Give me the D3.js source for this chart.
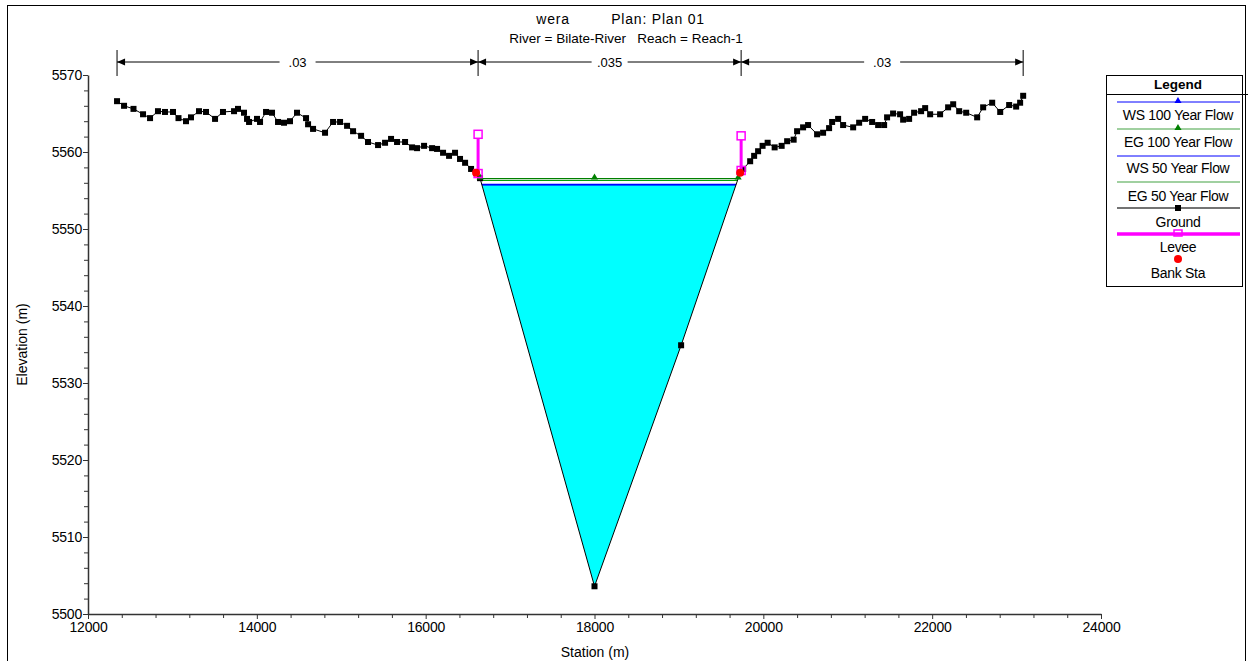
<!DOCTYPE html>
<html>
<head>
<meta charset="utf-8">
<script src="https://d3js.org/d3.v7.min.js"></script>
<style>
  body { margin:0; background:#fff; }
  svg { display:block; font-family:"Liberation Sans", Arial, sans-serif; }
  .tick text { font-size:14px; letter-spacing:-0.2px; fill:#000; }
  .axis path, .axis line { stroke:#333; }
</style>
</head>
<body>
<div id="chart"></div>
<script>
// ground profile: station (m), elevation (m)
var groundSta = [12344,12427,12539,12652,12735,12829,12912,13007,13072,13161,13220,13315,13398,13505,13599,13730,13777,13848,13884,13908,
  14002,14038,14109,14180,14251,14322,14393,14476,14583,14607,14666,14808,14903,14986,15069,15140,15235,15317,15436,15519,
  15590,15661,15756,15839,15898,15981,16076,16135,16206,16277,16348,16407,16467,16538,16597,16644,18000,19026,19725,19761,
  19844,19891,19938,19991,20051,20134,20217,20282,20359,20400,20471,20530,20637,20708,20779,20815,20886,20945,21064,21135,
  21206,21289,21360,21431,21466,21537,21620,21656,21727,21786,21869,21917,21976,22094,22189,22249,22320,22403,22533,22604,
  22711,22806,22912,22995,23042,23078];
var groundElev = [5566.6,5566.0,5565.6,5564.9,5564.4,5565.3,5565.2,5565.2,5564.4,5564.0,5564.5,5565.3,5565.2,5564.3,5565.2,5565.3,5565.6,5565.1,5564.3,5563.9,
  5564.3,5563.9,5565.2,5565.1,5563.9,5563.8,5564.0,5565.1,5564.4,5563.6,5563.0,5562.5,5563.9,5563.9,5563.4,5562.7,5562.1,5561.3,5560.9,5561.2,
  5561.7,5561.3,5561.3,5560.6,5560.5,5560.8,5560.5,5560.4,5559.9,5559.5,5559.9,5559.1,5558.6,5557.8,5557.3,5556.6,5503.6,5534.9,5557.3,5557.8,
  5558.8,5559.5,5560.1,5560.8,5561.2,5560.6,5560.8,5561.4,5561.6,5562.7,5563.2,5563.5,5562.3,5562.5,5563.1,5563.9,5564.3,5563.5,5563.2,5563.8,
  5564.3,5563.9,5563.5,5563.5,5564.5,5565.0,5564.9,5564.2,5564.3,5565.1,5565.3,5565.7,5564.9,5564.9,5565.8,5566.2,5565.3,5565.1,5564.5,5565.8,
  5566.4,5565.2,5566.1,5565.9,5566.4,5567.3];

// levees [station, top elevation, base elevation]
var leveeSta = [16621, 19737];
var leveeTop = [5562.3, 5562.1];
var leveeBase = [5557.2, 5557.6];
// bank stations
var bankSta = [16597, 19725];
var bankElev = [5557.3, 5557.3];

// water surfaces
var wsNames = ["EG 100 Year Flow", "EG 50 Year Flow", "WS 100 Year Flow", "WS 50 Year Flow"];
var wsElev = [5556.55, 5556.3, 5555.8, 5555.7];

// manning's n regions
var nBreaks = [12344, 16621, 19737, 23078];
var nValues = [".03", ".035", ".03"];

var xTicks = [12000,14000,16000,18000,20000,22000,24000];
var yTicks = [5500,5510,5520,5530,5540,5550,5560,5570];

var W = 1248, H = 661;
var L = 88, R = 1101, T = 75, B = 614;

var svg = d3.select("#chart").append("svg").attr("width", W).attr("height", H);

// outer frame
svg.append("rect").attr("x", 7.5).attr("y", 5.5).attr("width", 1238).attr("height", 670)
  .attr("fill", "none").attr("stroke", "#000").attr("stroke-width", 1);

var x = d3.scaleLinear().domain([12000, 24000]).range([L, R]);
var y = d3.scaleLinear().domain([5500, 5570]).range([B, T]);

// axes
var xAxis = svg.append("g").attr("class", "axis").attr("transform", "translate(0," + B + ")")
  .call(d3.axisBottom(x).tickValues(xTicks).tickSize(5).tickSizeOuter(0).tickFormat(d3.format("d")));
xAxis.select(".domain").attr("stroke-width", 1.5);
xAxis.selectAll(".tick text").attr("y", 8).attr("dy", "0.71em");
svg.append("g").attr("class", "axis").attr("transform", "translate(0," + B + ")")
  .call(d3.axisBottom(x).tickValues(d3.range(12000, 24001, 400).filter(function(v){ return v % 2000; })).tickSize(4).tickFormat(""))
  .select(".domain").remove();

var yAxis = svg.append("g").attr("class", "axis").attr("transform", "translate(" + L + ",0)")
  .call(d3.axisLeft(y).tickValues(yTicks).tickSize(5).tickSizeOuter(0).tickFormat(d3.format("d")));
yAxis.select(".domain").attr("stroke-width", 1.5);
yAxis.selectAll(".tick text").attr("x", -6);
svg.append("g").attr("class", "axis").attr("transform", "translate(" + L + ",0)")
  .call(d3.axisLeft(y).tickValues(d3.range(5500, 5571, 2).filter(function(v){ return v % 10; })).tickSize(4).tickFormat(""))
  .select(".domain").remove();

svg.append("text").attr("x", 595).attr("y", 657).attr("text-anchor", "middle")
  .attr("font-size", 14).text("Station (m)");
svg.append("text").attr("transform", "translate(27," + ((T + B) / 2) + ") rotate(-90)")
  .attr("text-anchor", "middle").attr("font-size", 14).text("Elevation (m)");

// titles
svg.append("text").attr("x", 553).attr("y", 24).attr("text-anchor", "middle").attr("font-size", 14).attr("letter-spacing", "0.8px").text("wera");
svg.append("text").attr("x", 658).attr("y", 24).attr("text-anchor", "middle").attr("font-size", 14).attr("letter-spacing", "0.8px").text("Plan: Plan 01");
svg.append("text").attr("x", 626).attr("y", 43).attr("text-anchor", "middle").attr("font-size", 13.5)
  .style("white-space", "pre").text("River = Bilate-River   Reach = Reach-1");

// ground helper: intersections with a horizontal level
var gpts = groundSta.map(function(s, i){ return [s, groundElev[i]]; });
function crossings(level) {
  var iMin = d3.minIndex(groundElev);
  var left = null, right = null;
  for (var i = iMin; i > 0; i--) {
    if (gpts[i - 1][1] >= level) {
      var a = gpts[i - 1], b = gpts[i];
      left = a[0] + (level - a[1]) / (b[1] - a[1]) * (b[0] - a[0]);
      break;
    }
  }
  for (var j = iMin; j < gpts.length - 1; j++) {
    if (gpts[j + 1][1] >= level) {
      var c = gpts[j], d = gpts[j + 1];
      right = c[0] + (level - c[1]) / (d[1] - c[1]) * (d[0] - c[0]);
      break;
    }
  }
  return [left, right, iMin];
}

// water fill under WS 100
var ws100 = wsElev[2];
var cr = crossings(ws100);
var poly = [[cr[0], ws100]];
gpts.forEach(function(p){ if (p[0] > cr[0] && p[0] < cr[1]) poly.push(p); });
poly.push([cr[1], ws100]);
svg.append("path")
  .attr("d", d3.line().x(function(d){ return x(d[0]); }).y(function(d){ return y(d[1]); })(poly) + "Z")
  .attr("fill", "#00ffff").attr("stroke", "none");

// water surface lines
var wsColors = ["#008000", "#00a000", "#0000ff", "#0000ff"];
var wsWidth = [1.2, 1, 1.2, 1];
wsElev.forEach(function(e, i){
  var c = crossings(e);
  svg.append("line").attr("x1", x(c[0])).attr("x2", x(c[1])).attr("y1", y(e)).attr("y2", y(e))
    .attr("stroke", wsColors[i]).attr("stroke-width", wsWidth[i]);
});

// ground line and markers
svg.append("path")
  .attr("d", d3.line().x(function(d){ return x(d[0]); }).y(function(d){ return y(d[1]); })(gpts))
  .attr("fill", "none").attr("stroke", "#000").attr("stroke-width", 1);
svg.selectAll("rect.gp").data(gpts).enter().append("rect").attr("class", "gp")
  .attr("x", function(d){ return x(d[0]) - 3; }).attr("y", function(d){ return y(d[1]) - 3; })
  .attr("width", 6).attr("height", 6).attr("fill", "#000");

// EG 100 triangles
var tri = d3.symbol().type(d3.symbolTriangle).size(22);
var egc = crossings(wsElev[0]);
[egc[0], groundSta[egc[2]], egc[1]].forEach(function(s){
  svg.append("path").attr("d", tri()).attr("fill", "#008000")
    .attr("transform", "translate(" + x(s) + "," + (y(wsElev[0]) - 1) + ")");
});

// levees
leveeSta.forEach(function(s, i){
  svg.append("line").attr("x1", x(s)).attr("x2", x(s)).attr("y1", y(leveeTop[i])).attr("y2", y(leveeBase[i]))
    .attr("stroke", "#ff00ff").attr("stroke-width", 3);
  svg.append("rect").attr("x", x(s) - 4).attr("y", y(leveeTop[i]) - 4).attr("width", 8).attr("height", 8)
    .attr("fill", "#fff").attr("stroke", "#ff00ff").attr("stroke-width", 1.5);
  svg.append("rect").attr("x", x(s) - 4).attr("y", y(leveeBase[i]) - 4).attr("width", 8).attr("height", 8)
    .attr("fill", "none").attr("stroke", "#ff00ff").attr("stroke-width", 1.5);
});

// bank stations
bankSta.forEach(function(s, i){
  svg.append("circle").attr("cx", x(s)).attr("cy", y(bankElev[i])).attr("r", 4).attr("fill", "#ff0000");
});

// manning's n dimension lines
var dimY = 62;
nBreaks.forEach(function(s){
  svg.append("line").attr("x1", x(s)).attr("x2", x(s)).attr("y1", 50).attr("y2", 76)
    .attr("stroke", "#000").attr("stroke-width", 1);
});
nValues.forEach(function(v, i){
  var x1 = x(nBreaks[i]), x2 = x(nBreaks[i + 1]), xm = (x1 + x2) / 2;
  var gap = 18;
  svg.append("line").attr("x1", x1).attr("x2", xm - gap).attr("y1", dimY).attr("y2", dimY).attr("stroke", "#000");
  svg.append("line").attr("x1", xm + gap).attr("x2", x2).attr("y1", dimY).attr("y2", dimY).attr("stroke", "#000");
  svg.append("path").attr("d", "M" + x1 + "," + dimY + "l8,-3.5v7z").attr("fill", "#000");
  svg.append("path").attr("d", "M" + x2 + "," + dimY + "l-8,-3.5v7z").attr("fill", "#000");
  svg.append("text").attr("x", xm).attr("y", dimY + 5).attr("text-anchor", "middle").attr("font-size", 13).text(v);
});

// legend
var lg = svg.append("g");
lg.append("rect").attr("x", 1106.5).attr("y", 75.5).attr("width", 136).attr("height", 211)
  .attr("fill", "#fff").attr("stroke", "#000").attr("stroke-width", 1);
lg.append("line").attr("x1", 1107).attr("x2", 1248).attr("y1", 94.5).attr("y2", 94.5).attr("stroke", "#000");
lg.append("text").attr("x", 1178).attr("y", 89).attr("text-anchor", "middle").attr("font-size", 13.5)
  .attr("font-weight", "bold").text("Legend");

var legNames = ["WS 100 Year Flow", "EG 100 Year Flow", "WS 50 Year Flow", "EG 50 Year Flow", "Ground", "Levee", "Bank Sta"];
var legLineY = [102, 129, 156, 182, 208, 234, 259];
var legTextY = [120, 147, 173, 201, 227, 252, 278];
var legColor = ["#0000ff", "#80c080", "#0000ff", "#80c080", "#444", "#ff00ff", null];
var legWidth = [1, 1.5, 1, 1.5, 1.5, 3.5, 0];
var cx = 1178;
legNames.forEach(function(n, i){
  if (legColor[i]) {
    lg.append("line").attr("x1", 1117).attr("x2", 1240).attr("y1", legLineY[i]).attr("y2", legLineY[i])
      .attr("stroke", legColor[i]).attr("stroke-width", legWidth[i]);
  }
  lg.append("text").attr("x", cx).attr("y", legTextY[i]).attr("text-anchor", "middle").attr("font-size", 14)
    .attr("letter-spacing", "-0.3px").text(n);
});
lg.append("path").attr("d", tri()).attr("fill", "#0000ff").attr("transform", "translate(" + cx + "," + (legLineY[0] - 1) + ")");
lg.append("path").attr("d", tri()).attr("fill", "#008000").attr("transform", "translate(" + cx + "," + (legLineY[1] - 1) + ")");
lg.append("rect").attr("x", cx - 3).attr("y", legLineY[4] - 3).attr("width", 6).attr("height", 6).attr("fill", "#000");
lg.append("rect").attr("x", cx - 4).attr("y", legLineY[5] - 4).attr("width", 8).attr("height", 6)
  .attr("fill", "none").attr("stroke", "#ff00ff").attr("stroke-width", 1.5);
lg.append("circle").attr("cx", cx).attr("cy", legLineY[6]).attr("r", 4).attr("fill", "#ff0000");
</script>
</body>
</html>
